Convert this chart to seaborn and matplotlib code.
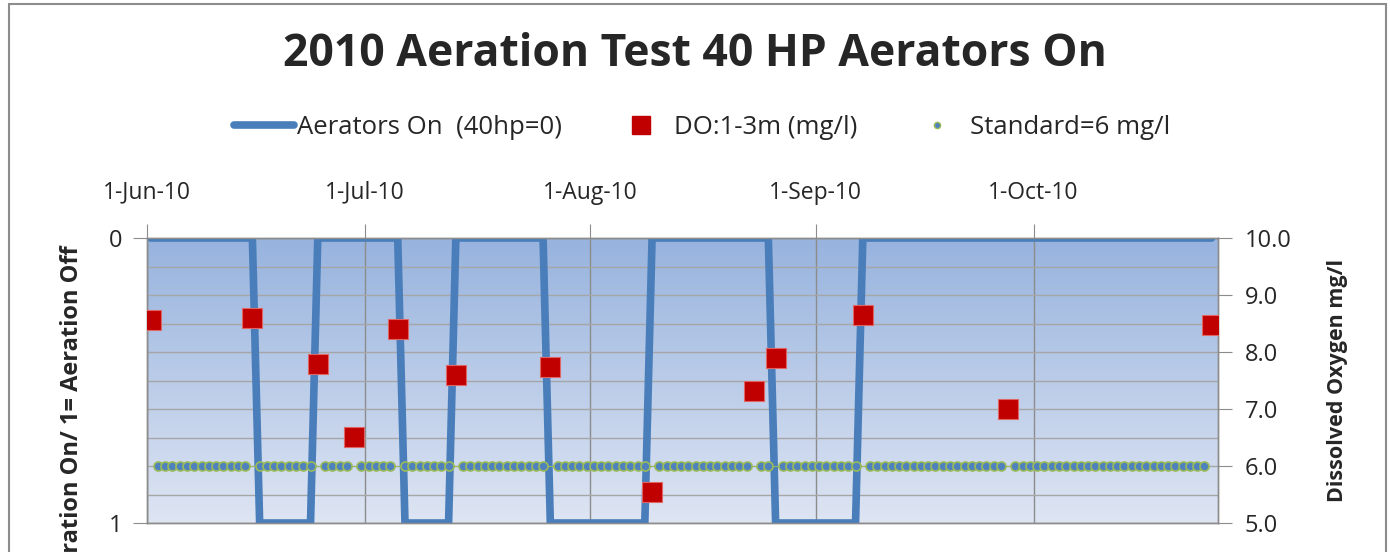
import pandas as pd
import numpy as np
import seaborn as sb
import matplotlib.pyplot as plt
import matplotlib.dates as mdates
from matplotlib.colors import LinearSegmentedColormap
from matplotlib.lines import Line2D
from matplotlib.patches import Rectangle

# aerator status (0 = aerators on, 1 = aeration off)
aer_dates = ['2010-06-01', '2010-06-15', '2010-06-16', '2010-06-23', '2010-06-24',
             '2010-07-05', '2010-07-06', '2010-07-12', '2010-07-13', '2010-07-25',
             '2010-07-26', '2010-08-08', '2010-08-09', '2010-08-25', '2010-08-26',
             '2010-09-06', '2010-09-07', '2010-10-25']
aer_state = [0, 0, 1, 1, 0, 0, 1, 1, 0, 0, 1, 1, 0, 0, 1, 1, 0, 0]

# dissolved oxygen samples, 1-3 m (mg/l)
do_dates = ['2010-06-01', '2010-06-15', '2010-06-24', '2010-06-29', '2010-07-05',
            '2010-07-13', '2010-07-26', '2010-08-09', '2010-08-23', '2010-08-26',
            '2010-09-07', '2010-09-27', '2010-10-25']
do_vals = [8.57, 8.60, 7.79, 6.51, 8.40, 7.60, 7.73, 5.54, 7.31, 7.89, 8.65, 7.00, 8.48]

# standard = 6 mg/l, one point per day except sample days
std_start = '2010-06-01'
std_end = '2010-10-25'
std_level = 6.0

month_ticks = ['2010-06-01', '2010-07-01', '2010-08-01', '2010-09-01', '2010-10-01']

# excel puts the date points in the middle of the day
half = pd.Timedelta(hours=12)
aer_x = pd.to_datetime(aer_dates) + half
do_x = pd.to_datetime(do_dates) + half
std_days = pd.date_range(std_start, std_end).difference(pd.to_datetime(do_dates))
std_x = std_days + half

sb.set_style('white')
plt.rcParams['font.family'] = ['Open Sans', 'DejaVu Sans']

fig = plt.figure(figsize=(13.9, 5.52), dpi=100)
ax = fig.add_axes([147 / 1390, 1 - 523 / 552, (1218 - 147) / 1390, (523 - 238) / 552])
ax2 = ax.twinx()

# gradient plot area
cmap = LinearSegmentedColormap.from_list('bg', ['#97B3DE', '#DEE5F3'])
ax.imshow(np.linspace(0, 1, 256).reshape(-1, 1), cmap=cmap, aspect='auto',
          extent=[0, 1, 0, 1], transform=ax.transAxes, origin='upper', zorder=0)

sb.lineplot(x=aer_x, y=aer_state, ax=ax, color='#4A7EBB', linewidth=5.5,
            estimator=None, sort=False, zorder=3)

sb.lineplot(x=std_x, y=[std_level] * len(std_x), ax=ax2, color='#9BBB59', linewidth=0.7,
            marker='o', markersize=6.5, mfc='#4F81BD', mec='#9BBB59', mew=1.2,
            estimator=None, zorder=2)
sb.scatterplot(x=do_x, y=do_vals, ax=ax2, marker='s', s=210, color='#C00000',
               edgecolor='#E06666', linewidth=0.8, zorder=4)

xmin = pd.Timestamp('2010-06-01')
xmax = pd.Timestamp('2010-10-26 09:00')
ax.set_xlim(xmin, xmax)
ax.set_ylim(1, 0)
ax2.set_ylim(5, 10)

# gridlines: every 0.5 mg/l horizontally, every month vertically
ax.set_yticks([0, 1])
ax.set_yticks(np.arange(0, 1.01, 0.1), minor=True)
ax.set_xticks(pd.to_datetime(month_ticks))
ax.xaxis.set_major_formatter(mdates.DateFormatter('%-d-%b-%y'))
ax.grid(axis='x', which='major', color='#8C8C8C', linewidth=1)
ax.grid(axis='y', which='minor', color='#A6A6A6', linewidth=1)
ax.grid(axis='y', which='major', color='#A6A6A6', linewidth=1)
ax.set_axisbelow(True)

ax.xaxis.set_ticks_position('top')
ax.tick_params(axis='x', which='major', direction='out', length=10, color='#8C8C8C',
               pad=14, labelsize=16.5)
ax.tick_params(axis='y', which='major', direction='out', length=10, color='#8C8C8C',
               pad=8, labelsize=17, left=True)
ax.tick_params(axis='y', which='minor', length=0)
ax2.set_yticks(np.arange(5, 10.01, 1))
ax2.yaxis.set_major_formatter(plt.FormatStrFormatter('%.1f'))
ax2.tick_params(axis='y', direction='out', length=10, color='#8C8C8C', pad=9,
                labelsize=17, right=True)

for a in (ax, ax2):
    a.set_xlabel('')
    a.set_ylabel('')
    for s in a.spines.values():
        s.set_color('#8C8C8C')
        s.set_linewidth(1)

fig.text(0.5, 1 - 55 / 552, '2010 Aeration Test 40 HP Aerators On', ha='center', va='center',
         fontsize=32, fontweight='bold')
# the chart is cropped at the bottom, so this label runs off the edge like in the original
fig.text(72 / 1390, 1 - 245 / 552, '0= Aeration On/ 1= Aeration Off', rotation=90,
         ha='center', va='top', fontsize=17, fontweight='bold')
fig.text(1338 / 1390, 1 - 380 / 552, 'Dissolved Oxygen mg/l', rotation=90,
         ha='center', va='center', fontsize=15.5, fontweight='bold')

handles = [
    Line2D([], [], color='#4A7EBB', linewidth=5.5, solid_capstyle='round'),
    Line2D([], [], linestyle='none', marker='s', markersize=13, color='#C00000'),
    Line2D([], [], linestyle='none', marker='o', markersize=4.5, mfc='#4F81BD', mec='#9BBB59'),
]
labels = ['Aerators On  (40hp=0)', 'DO:1-3m (mg/l)', 'Standard=6 mg/l']
fig.legend(handles, labels, loc='center', bbox_to_anchor=(0.505, 1 - 127 / 552), ncol=3,
           frameon=False, fontsize=18.5, handlelength=2.35, handletextpad=0.12,
           columnspacing=1.9)

fig.patches.append(Rectangle((9 / 1390, -0.1), (1386 - 9) / 1390, 1.1 - 4 / 552,
                             transform=fig.transFigure, fill=False,
                             edgecolor='#8C8C8C', linewidth=1.5))

fig.savefig('out.png', dpi=100)
